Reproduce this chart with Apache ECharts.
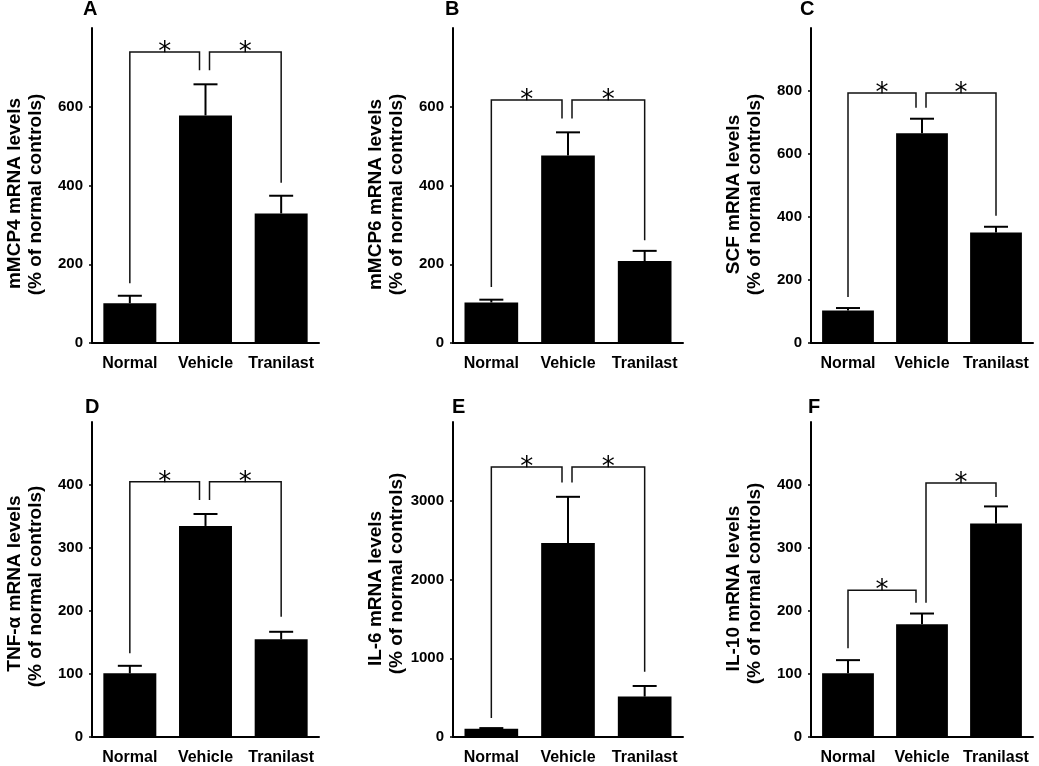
<!DOCTYPE html>
<html>
<head>
<meta charset="utf-8">
<script src="https://cdn.jsdelivr.net/npm/echarts@6/dist/echarts.min.js"></script>
<style>
html,body{margin:0;padding:0;background:#fff;}
#chart{width:1039px;height:766px;}
</style>
</head>
<body>
<div id="chart"></div>
<script>
// ---------- data ----------
const categories = ['Normal', 'Vehicle', 'Tranilast'];
const panelLetters = ['A', 'B', 'C', 'D', 'E', 'F'];
const yTitles = ['mMCP4 mRNA levels', 'mMCP6 mRNA levels', 'SCF mRNA levels',
                 'TNF-α mRNA levels', 'IL-6 mRNA levels', 'IL-10 mRNA levels'];
const ySubtitle = '(% of normal controls)';
const yMaxValues = [800, 800, 1000, 500, 4000, 500];
const yTickSteps = [200, 200, 200, 100, 1000, 100];

const mmcp4Means = [101, 578, 329];
const mmcp4Sems  = [19, 79, 45];
const mmcp6Means = [103, 476, 208];
const mmcp6Sems  = [7, 59, 26];
const scfMeans   = [103, 666, 351];
const scfSems    = [8, 46, 18];
const tnfMeans   = [101, 335, 155];
const tnfSems    = [12, 19, 12];
const il6Means   = [105, 2465, 513];
const il6Sems    = [8, 585, 135];
const il10Means  = [101, 179, 339];
const il10Sems   = [21, 17, 27];

// significance brackets: [fromCategory, toCategory, bracketLevel, leftLegEnd, rightLegEnd]
const mmcp4Brackets = [[0, 1, 739, 152, 693], [1, 2, 739, 693, 407]];
const mmcp6Brackets = [[0, 1, 617, 142, 570], [1, 2, 617, 570, 261]];
const scfBrackets   = [[0, 1, 794, 146, 747], [1, 2, 794, 747, 404]];
const tnfBrackets   = [[0, 1, 405, 133, 376], [1, 2, 405, 376, 191]];
const il6Brackets   = [[0, 1, 3430, 240, 3231], [1, 2, 3430, 3231, 830]];
const il10Brackets  = [[0, 1, 233, 141, 213], [1, 2, 403, 213, 381]];

const allMeans = [mmcp4Means, mmcp6Means, scfMeans, tnfMeans, il6Means, il10Means];
const allSems = [mmcp4Sems, mmcp6Sems, scfSems, tnfSems, il6Sems, il10Sems];
const allBrackets = [mmcp4Brackets, mmcp6Brackets, scfBrackets, tnfBrackets, il6Brackets, il10Brackets];

// ---------- layout / style ----------
const FONT = '"Liberation Sans", Arial, Helvetica, sans-serif';
const gridBoxes = [
  {left: 92, top: 28, width: 227, height: 315},
  {left: 453, top: 28, width: 230, height: 315},
  {left: 811, top: 28, width: 222, height: 315},
  {left: 92, top: 422, width: 227, height: 315},
  {left: 453, top: 422, width: 230, height: 315},
  {left: 811, top: 422, width: 222, height: 315}
];
const letterPos = [[83, -1], [445, -1], [800, -1], [85, 397], [452, 397], [808, 397]];
// screen-down shift (px) of title line 1 and line 2
const titleShift = [[8, 9], [9, 9], [9, 9], [4, 7], [9, -6], [9, 4]];

function shiftPad(d) {
  return d >= 0 ? [0, 2 * d, 0, 0] : [0, 0, 0, -2 * d];
}

function tickValues(max, step) {
  const v = [];
  for (let x = 0; x < max; x += step) v.push(x);
  return v;
}

function makeErrorRender() {
  return function (params, api) {
    const i = api.value(0), m = api.value(1), t = api.value(2);
    const b = api.coord([i, m]);
    const p = api.coord([i, t]);
    return {
      type: 'group',
      children: [
        {type: 'line', shape: {x1: b[0], y1: b[1], x2: p[0], y2: p[1]}, style: {stroke: '#000', lineWidth: 2}},
        {type: 'line', shape: {x1: p[0] - 12, y1: p[1], x2: p[0] + 12, y2: p[1]}, style: {stroke: '#000', lineWidth: 2}}
      ]
    };
  };
}

function makeBracketRender(brackets) {
  // category shared by two brackets gets its legs split apart
  const counts = {};
  brackets.forEach(b => { counts[b[0]] = (counts[b[0]] || 0) + 1; counts[b[1]] = (counts[b[1]] || 0) + 1; });
  return function (params, api) {
    const a = api.value(0), c = api.value(1), lvl = api.value(2), yl = api.value(3), yr = api.value(4);
    let xl = api.coord([a, lvl])[0];
    let xr = api.coord([c, lvl])[0];
    if (counts[a] > 1) xl += 4;
    if (counts[c] > 1) xr -= 6;
    const yTop = api.coord([a, lvl])[1];
    const yL = api.coord([a, yl])[1];
    const yR = api.coord([c, yr])[1];
    return {
      type: 'group',
      children: [
        {type: 'polyline', shape: {points: [[xl, yL], [xl, yTop], [xr, yTop], [xr, yR]]},
         style: {stroke: '#111', lineWidth: 1.5, fill: null}},
        {type: 'text', x: (xl + xr) / 2, y: yTop + 1,
         style: {text: '*', font: '26px "DejaVu Sans"', fill: '#000', align: 'center', verticalAlign: 'middle'}}
      ]
    };
  };
}

const option = {
  animation: false,
  backgroundColor: '#fff',
  title: [],
  grid: [],
  xAxis: [],
  yAxis: [],
  series: []
};

for (let k = 0; k < 6; k++) {
  option.title.push({
    text: panelLetters[k], left: letterPos[k][0], top: letterPos[k][1], padding: 0,
    textStyle: {fontFamily: FONT, fontWeight: 'bold', fontSize: 20, color: '#000'}
  });
  option.grid.push(Object.assign({outerBoundsMode: 'none', containLabel: false}, gridBoxes[k]));
  option.xAxis.push({
    type: 'category', gridIndex: k, data: categories,
    axisLine: {lineStyle: {color: '#000', width: 2}},
    axisTick: {show: false},
    axisLabel: {color: '#000', fontFamily: FONT, fontWeight: 'bold', fontSize: 16, margin: 13, interval: 0, hideOverlap: false},
    splitLine: {show: false}
  });
  const ticks = tickValues(yMaxValues[k], yTickSteps[k]);
  const sh = titleShift[k];
  option.yAxis.push({
    type: 'value', gridIndex: k, min: 0, max: yMaxValues[k], interval: yTickSteps[k],
    name: '{a|' + yTitles[k] + '}\n{b|' + ySubtitle + '}',
    nameLocation: 'middle', nameGap: 46, nameRotate: 90, nameMoveOverlap: false,
    nameTextStyle: {
      color: '#000', fontFamily: FONT, fontWeight: 'bold', fontSize: 19, lineHeight: 21,
      rich: {
        a: {color: '#000', fontFamily: FONT, fontWeight: 'bold', fontSize: 19, lineHeight: 21, padding: shiftPad(sh[0])},
        b: {color: '#000', fontFamily: FONT, fontWeight: 'bold', fontSize: 19, lineHeight: 21, padding: shiftPad(sh[1])}
      }
    },
    axisLine: {show: true, lineStyle: {color: '#000', width: 2}},
    axisTick: {show: true, length: 3, lineStyle: {color: '#000', width: 1.5}, customValues: ticks},
    axisLabel: {color: '#000', fontFamily: FONT, fontWeight: 'bold', fontSize: 15, margin: 9,
                customValues: ticks, formatter: v => String(v)},
    splitLine: {show: false}
  });
  option.series.push({
    type: 'bar', xAxisIndex: k, yAxisIndex: k, data: allMeans[k],
    barCategoryGap: '30%', itemStyle: {color: '#000'}, silent: true
  });
  option.series.push({
    type: 'custom', xAxisIndex: k, yAxisIndex: k,
    data: allMeans[k].map((m, i) => [i, m, m + allSems[k][i]]),
    renderItem: makeErrorRender(), silent: true, z: 3
  });
  option.series.push({
    type: 'custom', xAxisIndex: k, yAxisIndex: k,
    data: allBrackets[k],
    encode: {x: 0, y: 2},
    renderItem: makeBracketRender(allBrackets[k]), silent: true, z: 4
  });
}

const chart = echarts.init(document.getElementById('chart'), null, {renderer: 'canvas'});
chart.setOption(option);
</script>
</body>
</html>
